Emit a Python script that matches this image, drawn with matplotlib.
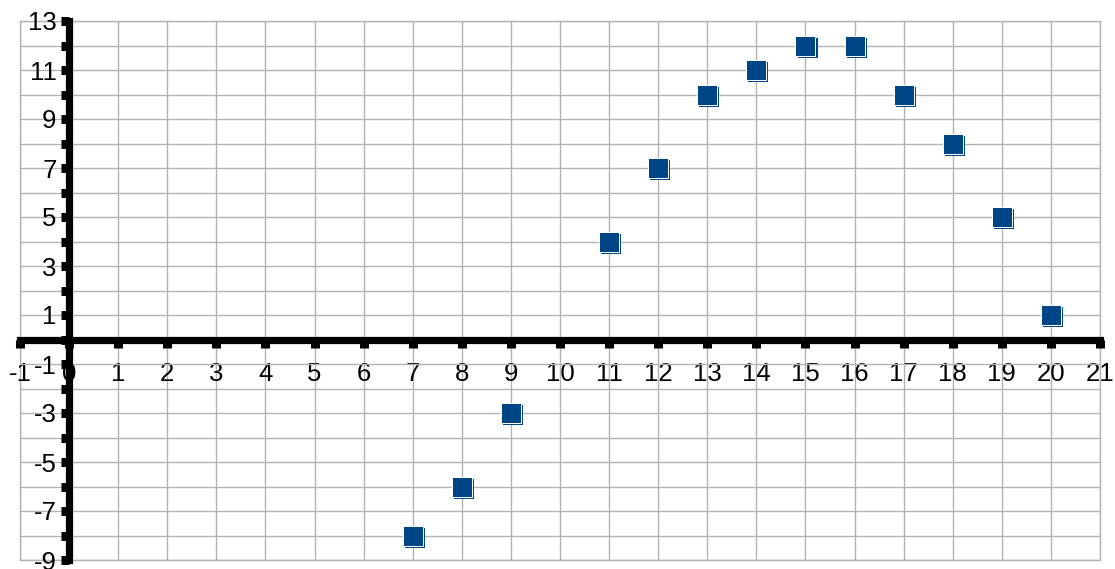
import numpy as np
import matplotlib.pyplot as plt
import matplotlib.transforms as mtransforms
from matplotlib.ticker import FixedLocator

# data points
x_vals = [7, 8, 9, 11, 12, 13, 14, 15, 16, 17, 18, 19, 20]
y_vals = [-8, -6, -3, 4, 7, 10, 11, 12, 12, 10, 8, 5, 1]

x_ticks = list(range(-1, 22))
y_major = list(range(-9, 14, 2))
y_minor = list(range(-8, 13, 2))

plt.rcParams['font.family'] = ['Liberation Sans', 'DejaVu Sans']

fig = plt.figure(figsize=(11.15, 5.69), dpi=100)
ax = fig.add_axes([20 / 1115, 1 - 560 / 569, 1080 / 1115, 539 / 569])

ax.set_xlim(-1, 21)
ax.set_ylim(-9, 13)

# grid on every integer
ax.xaxis.set_major_locator(FixedLocator(x_ticks))
ax.yaxis.set_major_locator(FixedLocator(y_major))
ax.yaxis.set_minor_locator(FixedLocator(y_minor))
ax.grid(True, which='both', color='#b3b3b3', linewidth=1.0, zorder=0)

# axes through the origin
for side in ['top', 'right']:
    ax.spines[side].set_visible(False)
ax.spines['left'].set_position(('data', 0))
ax.spines['bottom'].set_position(('data', 0))
for side in ['left', 'bottom']:
    ax.spines[side].set_linewidth(5.2)
    ax.spines[side].set_zorder(3)

ax.tick_params(axis='both', which='both', direction='out', length=6, width=6.5,
               color='black', labelsize=18.5)
ax.tick_params(axis='y', pad=3)
ax.tick_params(axis='x', pad=10)

ax.set_xticklabels([str(t) for t in x_ticks])
ax.set_yticklabels([str(t) for t in y_major])

# frame lines at the outer edge in grid colour
ax.plot([-1, 21, 21, -1, -1], [-9, -9, 13, 13, -9], color='#b3b3b3', lw=1.0,
        zorder=1, clip_on=False)

# markers with a small offset copy behind them
shift = mtransforms.ScaledTranslation(1.5 / 72, -1.5 / 72, fig.dpi_scale_trans)
ax.scatter(x_vals, y_vals, marker='s', s=200, color='#004586',
           linewidths=0, zorder=4, clip_on=False, transform=ax.transData + shift)
ax.scatter(x_vals, y_vals, marker='s', s=200, color='#004586',
           edgecolors='#ffffff', linewidths=0.7, zorder=5, clip_on=False)

fig.savefig('out.png', dpi=100)
